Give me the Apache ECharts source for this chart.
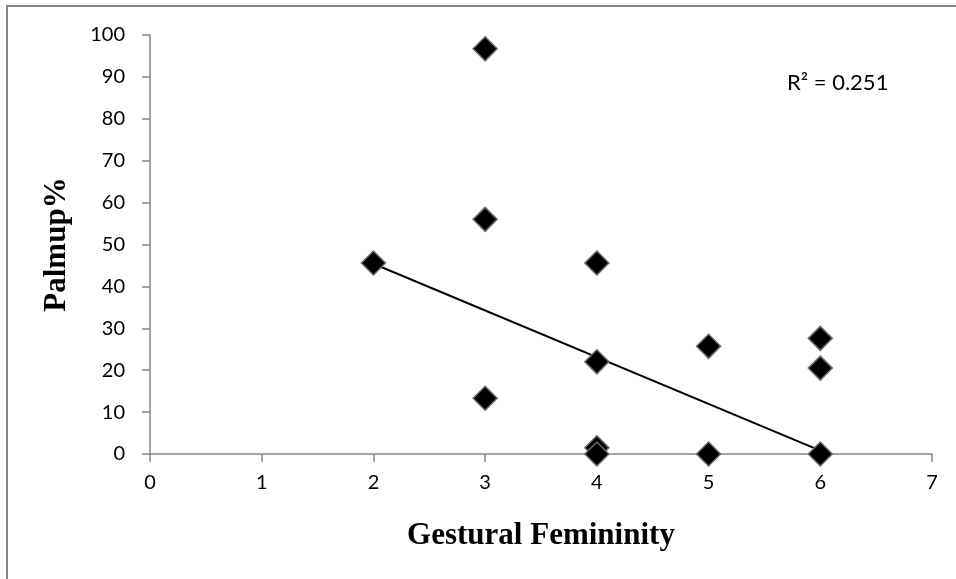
<!DOCTYPE html>
<html>
<head>
<meta charset="utf-8">
<script src="https://cdn.jsdelivr.net/npm/echarts@6/dist/echarts.min.js"></script>
<style>
  html, body { margin: 0; padding: 0; background: #fff; }
  #chart { width: 956px; height: 579px; }
</style>
</head>
<body>
<div id="chart"></div>
<script>
// gestural femininity score vs palm-up percentage
const femininity = [2, 3, 3, 3, 4, 4, 4, 4, 5, 5, 6, 6, 6];
const palmup = [45.6, 96.7, 56, 13.3, 45.6, 22, 1.5, 0, 25.7, 0, 27.6, 20.5, 0];
// linear trendline as drawn (end points)
const trendX = [2, 6];
const trendY = [45.4, 0.8];
const rSquared = "R² = 0.251";

const axisGray = "#868686";
const tickFont = "Lato, 'Open Sans', sans-serif";
const titleFont = "'Liberation Serif', 'DejaVu Serif', serif";

let mychart = echarts.init(document.getElementById("chart"));

const option = {
  animation: false,
  backgroundColor: "#ffffff",
  grid: {
    left: 150,
    right: 24,
    top: 35,
    bottom: 125,
    containLabel: false
  },
  xAxis: {
    type: "value",
    min: 0,
    max: 7,
    interval: 1,
    name: "Gestural Femininity",
    nameLocation: "middle",
    nameGap: 66,
    nameTextStyle: {
      fontFamily: titleFont,
      fontWeight: "bold",
      fontSize: 31,
      color: "#000"
    },
    axisLine: { show: true, onZero: false, lineStyle: { color: axisGray, width: 1.5 } },
    axisTick: { show: true, inside: false, length: 8, lineStyle: { color: axisGray, width: 1.5 } },
    axisLabel: { fontFamily: tickFont, fontSize: 20, color: "#000", margin: 19 },
    splitLine: { show: false }
  },
  yAxis: {
    type: "value",
    min: 0,
    max: 100,
    interval: 10,
    name: "Palmup%",
    nameLocation: "middle",
    nameGap: 78,
    nameTextStyle: {
      fontFamily: titleFont,
      fontWeight: "bold",
      fontSize: 31,
      color: "#000"
    },
    axisLine: { show: true, lineStyle: { color: axisGray, width: 1.5 } },
    axisTick: { show: true, inside: false, length: 8, lineStyle: { color: axisGray, width: 1.5 } },
    axisLabel: { fontFamily: tickFont, fontSize: 20, color: "#000", margin: 25 },
    splitLine: { show: false }
  },
  graphic: [
    {
      type: "polyline",
      shape: { points: [[7, 579], [7, 6], [956, 6]] },
      style: { stroke: axisGray, lineWidth: 2, fill: null },
      silent: true
    },
    {
      type: "text",
      left: 787,
      top: 72,
      style: {
        text: rSquared,
        fontFamily: tickFont,
        fontSize: 22,
        fill: "#000"
      }
    }
  ],
  series: [
    {
      name: "trend",
      type: "line",
      data: trendX.map((x, i) => [x, trendY[i]]),
      symbol: "none",
      lineStyle: { color: "#000", width: 2 },
      z: 2
    },
    {
      name: "Palmup",
      type: "scatter",
      data: femininity.map((x, i) => [x, palmup[i]]),
      symbol: "diamond",
      symbolSize: [24, 24],
      itemStyle: {
        color: "#000",
        opacity: 1,
        borderColor: "#6a6a6a",
        borderWidth: 1.5
      },
      z: 3
    }
  ]
};
mychart.setOption(option);
</script>
</body>
</html>
